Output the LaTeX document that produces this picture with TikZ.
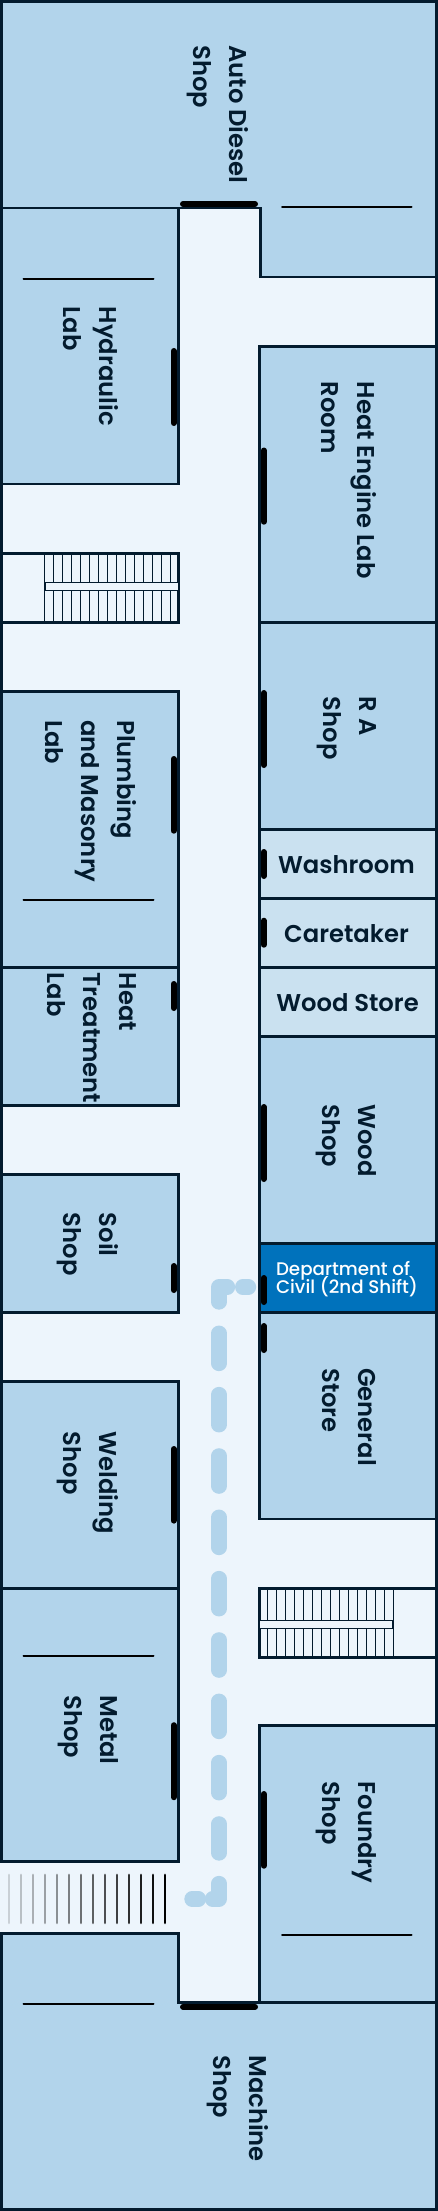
\documentclass[tikz,border=0pt]{standalone}
\usepackage{fontspec}
\newfontfamily\roomfont{Poppins SemiBold}
\newfontfamily\deptfont{Poppins Medium}
\newcommand{\deptsize}{\fontsize{13.7}{13.5}\selectfont\lineskiplimit=-20pt\relax}
\definecolor{wallcol}{RGB}{3,27,46}
\definecolor{roomcol}{RGB}{178,212,235}
\definecolor{smallroomcol}{RGB}{202,225,240}
\definecolor{hallcol}{RGB}{237,245,252}
\definecolor{deptcol}{RGB}{0,114,188}
\tikzset{
  room/.style={draw=wallcol,line width=2pt,fill=roomcol},
  smallroom/.style={room,fill=smallroomcol},
  stairroom/.style={room,fill=hallcol},
  doorbar/.style={draw=black,line width=4.5pt,line cap=round},
  bench/.style={draw=black,line width=1.5pt,line cap=round},
  tread/.style={draw=wallcol,line width=0.8pt},
  landing/.style={draw=wallcol,line width=1.1pt,fill=hallcol},
  routedash/.style={draw=roomcol,line width=11.5pt,line cap=round,line join=round},
  vlabel/.style={rotate=-90,anchor=north west,align=left,inner sep=0pt,text=wallcol,
    font=\roomfont\fontsize{18.2}{27}\selectfont,execute at begin node=\strut},
  hlabel/.style={inner sep=0pt,text=wallcol,font=\roomfont\fontsize{18.2}{27}\selectfont},
}
\begin{document}
\begin{tikzpicture}[x=0.75pt,y=0.75pt,yscale=-1,xscale=1]
\useasboundingbox (0,0) rectangle (438,2211);

%Shape: hall floor
\fill [hallcol] (0,0) rectangle (438,2211);

%Shape: top and bottom shops
\draw [room] (-3,-3) -- (440,-3) -- (440,277) -- (260.5,277) -- (260.5,208) -- (-3,208) -- cycle ;
\draw [room] (-3,1933.2) -- (178.5,1933.2) -- (178.5,2002.4) -- (440,2002.4) -- (440,2214) -- (-3,2214) -- cycle ;

%Shape: left rooms
\draw [room] (-3,208) rectangle (178.5,484);
\draw [stairroom] (-3,553.3) rectangle (178.5,622.3);
\draw [room] (-3,691.7) rectangle (178.5,967.3);
\draw [room] (-3,967.3) rectangle (178.5,1105.7);
\draw [room] (-3,1174.3) rectangle (178.5,1312.3);
\draw [room] (-3,1381.3) rectangle (178.5,1588.4);
\draw [room] (-3,1588.4) rectangle (178.5,1861.3);

%Shape: right rooms
\draw [room] (259.5,346.5) rectangle (440,622.3);
\draw [room] (259.5,622.3) rectangle (440,829.3);
\draw [smallroom] (259.5,829.3) rectangle (440,898.3);
\draw [smallroom] (259.5,898.3) rectangle (440,967.3);
\draw [smallroom] (259.5,967.3) rectangle (440,1036.3);
\draw [room] (259.5,1036.3) rectangle (440,1243.7);
\draw [room,fill=deptcol] (259.5,1243.7) rectangle (440,1312.3);
\draw [room] (259.5,1312.3) rectangle (440,1519);
\draw [stairroom] (259.5,1588.4) rectangle (440,1657.3);
\draw [room] (259.5,1725.4) rectangle (440,2002.4);

%Shape: outer frame, open at the entrance
\draw [draw=wallcol,line width=2.25pt] (1.5,1861.3) -- (1.5,1.5) -- (436.5,1.5) -- (436.5,2209.5) -- (1.5,2209.5) -- (1.5,1933.2);

%Shape: stairs
\foreach \i in {0,...,14} {
  \draw [tread] (44.2+9.05*\i,553.3) -- (44.2+9.05*\i,622.3);
  \draw [tread] (267.5+9*\i,1588.4) -- (267.5+9*\i,1657.3);
}
\draw [landing] (45.5,582.6) rectangle (179,590.4);
\draw [landing] (258.8,1620.6) rectangle (392.4,1628.4);

%Shape: entrance stripes
\foreach \i in {0,...,13} {
  \pgfmathsetmacro{\fade}{0.15+0.85*\i/13}
  \draw [draw=black,draw opacity=\fade,line width=2.2pt,line cap=round] (9+12*\i,1875) -- (9+12*\i,1922.8);
}

%Shape: benches
\draw [bench] (282,206.7) -- (411.5,206.7);
\draw [bench] (23.5,279) -- (153.5,279);
\draw [bench] (23.5,900) -- (153.5,900);
\draw [bench] (23.5,1655.5) -- (153.5,1655.5);
\draw [bench] (282,1934.9) -- (411.5,1934.9);
\draw [bench] (23.5,2003.8) -- (153.5,2003.8);

%Shape: doors
\draw [doorbar] (183,204) -- (255,204);
\draw [doorbar] (183,2006.8) -- (255,2006.8);
\draw [doorbar] (173.7,351) -- (173.7,423);
\draw [doorbar] (173.7,759) -- (173.7,830.7);
\draw [doorbar] (173.7,984) -- (173.7,1008);
\draw [doorbar] (173.7,1266) -- (173.7,1290);
\draw [doorbar] (173.7,1449) -- (173.7,1520.6);
\draw [doorbar] (173.7,1725.2) -- (173.7,1797.2);
\draw [doorbar] (263.7,450.5) -- (263.7,521.7);
\draw [doorbar] (263.7,693) -- (263.7,765);
\draw [doorbar] (263.7,852) -- (263.7,876);
\draw [doorbar] (263.7,920.7) -- (263.7,944.7);
\draw [doorbar] (263.7,1107) -- (263.7,1179);
\draw [doorbar] (263.7,1278) -- (263.7,1302);
\draw [doorbar] (263.7,1326) -- (263.7,1350);
\draw [doorbar] (263.7,1794) -- (263.7,1865.7);

%Curve Lines: route to the department
\draw [routedash] (248.5,1287) -- (242.7,1287);
\draw [routedash] (227.5,1287) -- (219,1287) -- (219,1302);
\draw [routedash,dash pattern=on 22.7pt off 23.3pt] (219,1333.2) -- (219,1853);
\draw [routedash] (219,1883.5) -- (219,1899) -- (212.5,1899);
\draw [routedash] (198.5,1899) -- (192,1899);

% Text Node
\node (autodiesel) [vlabel] at (248.5,45) {Auto Diesel\\Shop};
\node (hydraulic) [vlabel] at (118.5,306.5) {Hydraulic\\Lab};
\node (heatengine) [vlabel] at (376.5,381.5) {Heat Engine Lab\\Room};
\node (plumbing) [vlabel] at (137,720) {Plumbing\\and Masonry\\Lab};
\node (rashop) [vlabel] at (376.5,696.5) {R A\\Shop};
\node (heattreat) [vlabel] at (137,972.5) {Heat\\Treatment\\Lab};
\node (woodshop) [vlabel] at (376.5,1104) {Wood\\Shop};
\node (soilshop) [vlabel] at (118.5,1212.5) {Soil\\Shop};
\node (generalstore) [vlabel] at (376.5,1368) {General\\Store};
\node (welding) [vlabel] at (118.5,1431.5) {Welding\\Shop};
\node (metalshop) [vlabel] at (118.5,1695) {Metal\\Shop};
\node (foundry) [vlabel] at (376.5,1781.5) {Foundry\\Shop};
\node (machine) [vlabel] at (268.5,2055) {Machine\\Shop};
\node (washroom) [hlabel] at (346.5,865) {Washroom};
\node (caretaker) [hlabel] at (346.5,934) {Caretaker};
\node (woodstore) [hlabel] at (347.5,1003) {Wood Store};
\node (department) [inner sep=0pt,align=left,text=white,font=\deptfont\deptsize] at (347,1279) {Department of\\Civil (2nd Shift)};

\end{tikzpicture}
\end{document}
